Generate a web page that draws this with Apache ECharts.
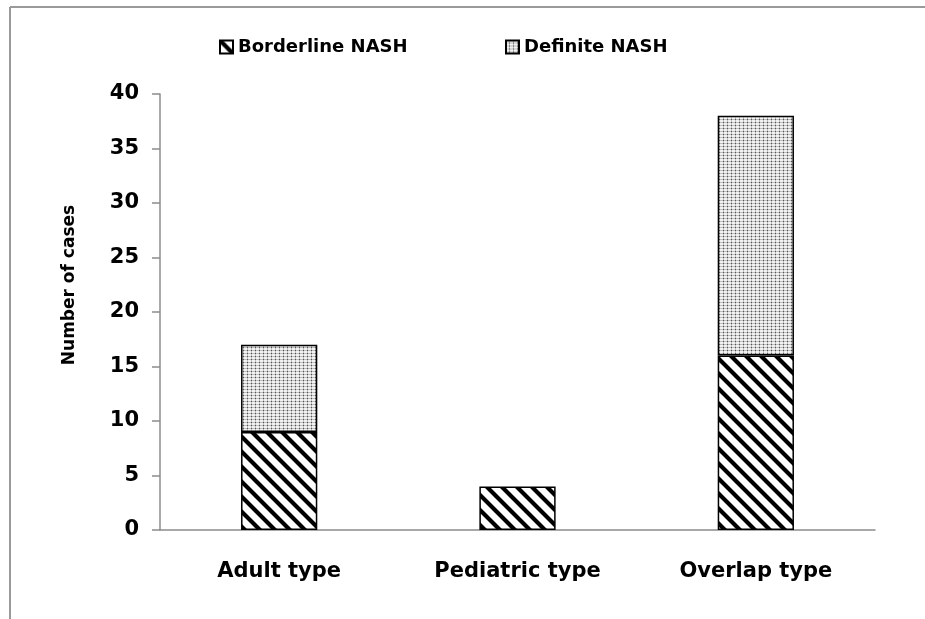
<!DOCTYPE html>
<html>
<head>
<meta charset="utf-8">
<style>
  html, body { margin: 0; padding: 0; background: #fff; }
  #chart { width: 925px; height: 619px; }
</style>
<script src="https://cdn.jsdelivr.net/npm/echarts@6/dist/echarts.min.js"></script>
</head>
<body>
<div id="chart"></div>
<script>
// Case counts by histological type
const categories = ['Adult type', 'Pediatric type', 'Overlap type'];
const borderlineNash = [9, 4, 16];
const definiteNash = [8, 0, 22];
const seriesNames = ['Borderline NASH', 'Definite NASH'];
const yAxisTitle = 'Number of cases';

// Diagonal black hatch fill
function makeHatch() {
  const size = 15;
  const c = document.createElement('canvas');
  c.width = size; c.height = size;
  const g = c.getContext('2d');
  g.fillStyle = '#fff';
  g.fillRect(0, 0, size, size);
  g.strokeStyle = '#000';
  g.lineWidth = 4.2;
  g.beginPath();
  for (let k = -1; k <= 1; k++) {
    g.moveTo(k * size - 2, -2);
    g.lineTo(k * size + size + 2, size + 2);
  }
  g.stroke();
  return c;
}

// Grey dotted fill
function makeDots() {
  const c = document.createElement('canvas');
  c.width = 4; c.height = 3;
  const g = c.getContext('2d');
  g.fillStyle = '#f2f2f2';
  g.fillRect(0, 0, 4, 3);
  g.fillStyle = '#bdbdbd';
  g.fillRect(3, 0, 1, 3);
  g.fillRect(0, 2, 4, 1);
  g.fillStyle = '#555';
  g.fillRect(3, 2, 1, 1);
  return c;
}

const hatchFill = { image: makeHatch(), repeat: 'repeat' };
const dotFill = { image: makeDots(), repeat: 'repeat' };

const chart = echarts.init(document.getElementById('chart'), null, { renderer: 'canvas' });
const font = '"DejaVu Sans", "Noto Sans", sans-serif';

const legendText = { fontSize: 18, fontWeight: 'bold', color: '#000', fontFamily: font };

chart.setOption({
  animation: false,
  backgroundColor: '#fff',
  textStyle: { fontFamily: font },
  graphic: [
    { type: 'line', shape: { x1: 10, y1: 7, x2: 925, y2: 7 }, style: { stroke: '#9a9a9a', lineWidth: 2 } },
    { type: 'line', shape: { x1: 10, y1: 7, x2: 10, y2: 619 }, style: { stroke: '#9a9a9a', lineWidth: 2 } },
    {
      type: 'text', x: 70, y: 285, rotation: Math.PI / 2,
      style: {
        text: yAxisTitle, fontSize: 17, fontWeight: 'bold', fill: '#000',
        fontFamily: font, align: 'center', verticalAlign: 'middle'
      }
    }
  ],
  legend: [
    {
      data: [seriesNames[0]], left: 214, top: 33,
      itemWidth: 13, itemHeight: 13, itemGap: 4,
      icon: 'rect', textStyle: legendText
    },
    {
      data: [seriesNames[1]], left: 500, top: 33,
      itemWidth: 13, itemHeight: 13, itemGap: 4,
      icon: 'rect', textStyle: legendText
    }
  ],
  grid: { left: 160, right: 50, top: 94, bottom: 89, containLabel: false },
  xAxis: {
    type: 'category',
    data: categories,
    axisLine: { lineStyle: { color: '#8c8c8c', width: 1.5 } },
    axisTick: { show: false },
    axisLabel: { margin: 31, fontSize: 21, fontWeight: 'bold', color: '#000', fontFamily: font }
  },
  yAxis: {
    type: 'value',
    min: 0, max: 40, interval: 5,
    axisLine: { show: true, lineStyle: { color: '#8c8c8c', width: 1.5 } },
    axisTick: { show: true, length: 8, lineStyle: { color: '#8c8c8c', width: 1.5 } },
    splitLine: { show: false },
    axisLabel: { margin: 21, fontSize: 21, fontWeight: 'bold', color: '#000', fontFamily: font }
  },
  series: [
    {
      name: seriesNames[0], type: 'bar', stack: 'cases', barWidth: '32%',
      data: borderlineNash,
      itemStyle: { color: hatchFill, borderColor: '#000', borderWidth: 1.5 }
    },
    {
      name: seriesNames[1], type: 'bar', stack: 'cases', barWidth: '32%',
      data: definiteNash.map(v => (v === 0 ? null : v)),
      itemStyle: { color: dotFill, borderColor: '#000', borderWidth: 1.5 }
    }
  ]
});
</script>
</body>
</html>
